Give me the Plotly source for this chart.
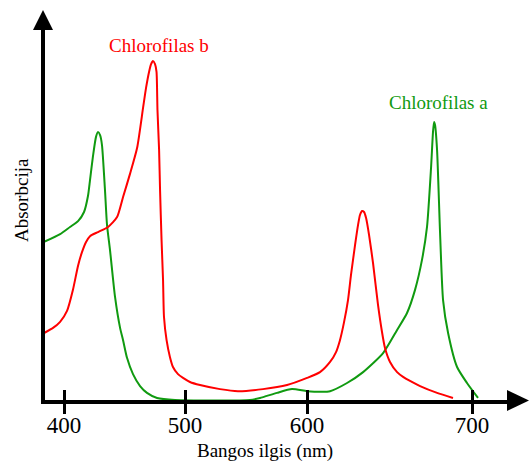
import plotly.graph_objects as go

# ---------------- data (wavelength axis units, relative absorbance) ----------------
chl_a_nm = [385.3, 397.1, 404.4, 410.3, 414.7, 417.6, 419.1, 421.3, 423.5, 425.0,
            426.5, 427.9, 430.1, 431.6, 433.8, 437.5, 441.2, 443.4, 446.3, 450.7, 455.9,
            461.0, 468.4, 481.6, 536.8, 544.1, 556.6, 567.6, 578.7, 589.7, 595.6, 608.1,
            619.9, 634.6, 644.9, 652.2, 658.1, 663.2, 666.9, 669.9, 671.3, 672.1, 672.8,
            674.3, 676.5, 678.7, 682.4, 689.0, 696.3, 704.4]
chl_a_abs = [0.465, 0.488, 0.509, 0.526, 0.553, 0.600, 0.647, 0.718, 0.774, 0.788,
             0.779, 0.750, 0.618, 0.515, 0.441, 0.303, 0.212, 0.176, 0.124, 0.076, 0.041,
             0.021, 0.006, 0.000, 0.000, 0.006, 0.021, 0.032, 0.026, 0.024, 0.026, 0.050,
             0.082, 0.138, 0.206, 0.256, 0.324, 0.412, 0.509, 0.685, 0.788, 0.818, 0.809,
             0.735, 0.491, 0.294, 0.197, 0.097, 0.050, 0.006]

chl_b_nm = [385.3, 391.9, 397.1, 402.2, 406.6, 410.3, 413.2, 416.2, 419.1, 425.0, 432.4,
            439.0, 443.4, 448.5, 453.7, 458.1, 460.3, 462.5, 464.0, 465.4, 466.9, 468.0,
            468.7, 469.9, 470.6, 471.7, 472.8, 473.5, 475.4, 477.9, 480.1, 483.8, 487.5,
            492.6, 500.0, 514.7, 527.9, 546.3, 564.0, 578.7, 588.2, 595.6, 600.0, 602.9,
            605.9, 608.8, 611.0, 614.0, 616.2, 617.6, 619.1, 620.6, 622.1, 624.3, 627.2,
            630.9, 633.8, 636.0, 639.7, 644.9, 649.3, 654.4, 661.8, 674.3, 686.0]
chl_b_abs = [0.197, 0.212, 0.230, 0.262, 0.325, 0.395, 0.435, 0.465, 0.482, 0.494, 0.509,
             0.538, 0.597, 0.665, 0.741, 0.859, 0.918, 0.965, 0.988, 0.997, 0.988, 0.965,
             0.853, 0.735, 0.618, 0.471, 0.353, 0.244, 0.176, 0.126, 0.097, 0.076, 0.065,
             0.053, 0.044, 0.032, 0.026, 0.032, 0.044, 0.065, 0.082, 0.112, 0.141, 0.176,
             0.229, 0.294, 0.368, 0.456, 0.515, 0.544, 0.556, 0.553, 0.535, 0.485, 0.403,
             0.279, 0.200, 0.153, 0.112, 0.082, 0.068, 0.056, 0.041, 0.021, 0.006]

tick_labels = ["400", "500", "600", "700"]
tick_positions = [400.0, 489.0, 578.7, 700.0]   # where the reference draws its (uneven) ticks

# ---------------- layout helpers ----------------
W, H = 530, 461
L, R, T, B = 45, 15, 25, 61
RED = "#ff0000"
GREEN = "#109a10"
FONT = "Liberation Serif"


def pxx(x):
    return (x - L) / (W - L - R)


def pxy(y):
    return (H - B - y) / (H - T - B)


fig = go.Figure()
fig.add_trace(go.Scatter(x=chl_a_nm, y=chl_a_abs, mode="lines",
                         line=dict(color=GREEN, width=2, shape="spline", smoothing=0.6),
                         hoverinfo="skip", showlegend=False))
fig.add_trace(go.Scatter(x=chl_b_nm, y=chl_b_abs, mode="lines",
                         line=dict(color=RED, width=2, shape="spline", smoothing=0.6),
                         hoverinfo="skip", showlegend=False))

fig.update_layout(
    width=W, height=H,
    margin=dict(l=L, r=R, t=T, b=B, pad=0, autoexpand=False),
    paper_bgcolor="white", plot_bgcolor="white",
    font=dict(family=FONT, color="black"),
    xaxis=dict(range=[386.0, 731.6], showgrid=False, zeroline=False,
               showline=True, linecolor="black", linewidth=4,
               tickmode="array", tickvals=tick_positions, ticktext=tick_labels,
               ticks="outside", ticklen=10, tickwidth=3, tickcolor="black",
               minor=dict(tickmode="array", tickvals=tick_positions, ticks="inside",
                          ticklen=10, tickwidth=3, tickcolor="black", showgrid=False),
               tickfont=dict(family=FONT, size=23, color="black"),
               ticklabelstandoff=-9,
               fixedrange=True),
    yaxis=dict(range=[0, 1.103], showgrid=False, zeroline=False,
               showline=True, linecolor="black", linewidth=4,
               showticklabels=False, ticks="", fixedrange=True),
    shapes=[
        dict(type="path", xref="paper", yref="paper",
             path=f"M {pxx(33)} {pxy(30)} L {pxx(53)} {pxy(30)} L {pxx(43)} {pxy(10)} Z",
             fillcolor="black", line=dict(width=0)),
        dict(type="path", xref="paper", yref="paper",
             path=f"M {pxx(507)} {pxy(390)} L {pxx(507)} {pxy(411)} L {pxx(529)} {pxy(400.5)} Z",
             fillcolor="black", line=dict(width=0)),
    ],
    annotations=[
        dict(text="Chlorofilas b", x=469.5, y=1.044, xref="x", yref="y", showarrow=False,
             xanchor="center", yanchor="middle",
             font=dict(family=FONT, size=19, color=RED)),
        dict(text="Chlorofilas a", x=675.4, y=0.874, xref="x", yref="y", showarrow=False,
             xanchor="center", yanchor="middle",
             font=dict(family=FONT, size=19, color=GREEN)),
        dict(text="Bangos ilgis (nm)", x=pxx(265), y=pxy(451), xref="paper", yref="paper",
             xanchor="center", yanchor="middle",
             showarrow=False, font=dict(family=FONT, size=19, color="black")),
        dict(text="Absorbcija", x=pxx(21), y=pxy(200), xref="paper", yref="paper",
             xanchor="center", yanchor="middle",
             textangle=-90, showarrow=False, font=dict(family=FONT, size=19, color="black")),
    ],
)

fig.write_html("out.html", config={"displayModeBar": False},
               post_script="document.body.style.margin='0';document.body.style.padding='0';")
